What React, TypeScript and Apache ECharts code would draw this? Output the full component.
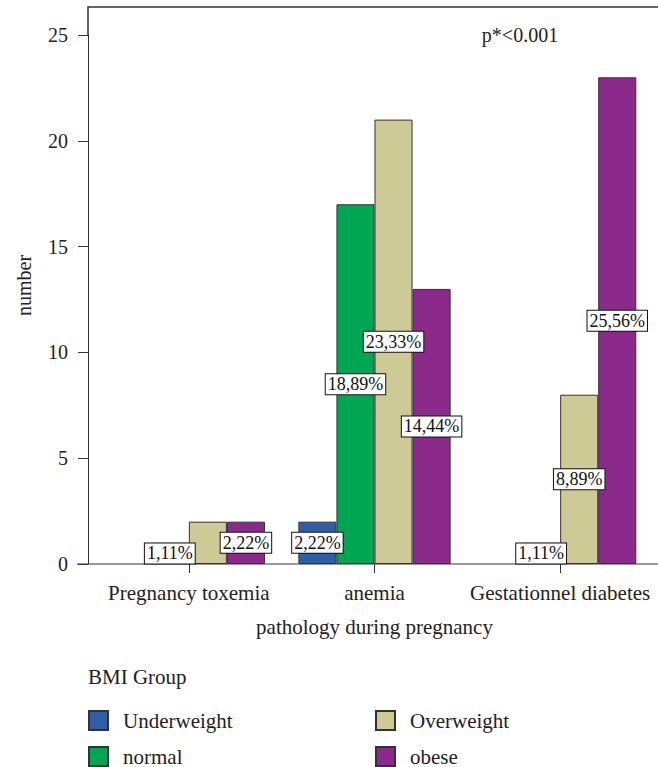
import React, { useEffect, useRef } from "react";
import * as echarts from "echarts";

const categories = ["Pregnancy toxemia", "anemia", "Gestationnel diabetes"];
const groupNames = ["Underweight", "normal", "Overweight", "obese"];
const underweight = [0, 2, 0];
const normal = [1, 17, 1];
const overweight = [2, 21, 8];
const obese = [2, 13, 23];
const groupColors = ["#2f5ea9", "#00a651", "#cdca95", "#8b2a8a"];
// labels suppressed in the reference (overlap)
const hiddenLabels: [string, number][] = [["Overweight", 0]];
const yMin = 0;
const yMax = 25;
const yInterval = 5;
const xTitle = "pathology during pregnancy";
const yTitle = "number";
const legendTitle = "BMI Group";
const pText = "p*<0.001";

const FONT = "Liberation Serif";
const W = 658;
const H = 767;
const GRID_LEFT = 96;
const GRID_RIGHT = 5;
const GRID_TOP = 35;
const GRID_BOTTOM = 203;
const AXIS_X = 88;
const FRAME_TOP = 7;

export default function App() {
  const ref = useRef<HTMLDivElement>(null);
  useEffect(() => {
    document.body.style.margin = "0";
    if (!ref.current) return;
    const chart = echarts.init(ref.current, null, { renderer: "svg" });
    const seriesValues = [underweight, normal, overweight, obese];
    const total = seriesValues.flat().reduce((a, b) => a + b, 0);
    const pct = (v: number) => ((v / total) * 100).toFixed(2).replace(".", ",") + "%";
    const axisY = H - GRID_BOTTOM;

    const series = groupNames.map((name, si) => ({
      name,
      type: "bar",
      barGap: "0%",
      barCategoryGap: "18%",
      itemStyle: { color: groupColors[si], borderColor: "#333", borderWidth: 1 },
      label: {
        show: true,
        position: "inside",
        formatter: (p: any) => pct(p.value),
        color: "#111",
        fontFamily: FONT,
        fontSize: 18,
        backgroundColor: "#fff",
        borderColor: "#111",
        borderWidth: 1,
        padding: [2, 2, 0, 2],
      },
      data: seriesValues[si].map((v, ci) => {
        const hide = v === 0 || hiddenLabels.some(([n, c]) => n === name && c === ci);
        const item: any = { value: v };
        if (hide) item.label = { show: false };
        if (v === 0) item.itemStyle = { borderWidth: 0, opacity: 0 };
        return item;
      }),
    }));

    const legendBase = {
      orient: "vertical",
      itemWidth: 19,
      itemHeight: 19,
      padding: 0,
      icon: "rect",
      selectedMode: false,
      textStyle: { color: "#222", fontFamily: FONT, fontSize: 21, padding: [0, 0, 0, 10] },
    };
    const legendPos = [
      [88, 710],
      [88, 746],
      [375, 710],
      [375, 746],
    ];

    chart.setOption({
      animation: false,
      grid: { left: GRID_LEFT, right: GRID_RIGHT, top: GRID_TOP, bottom: GRID_BOTTOM },
      xAxis: {
        type: "category",
        data: categories,
        axisLine: { show: false },
        axisTick: { show: true, alignWithLabel: true, length: 9, lineStyle: { color: "#333" } },
        axisLabel: { color: "#222", fontFamily: FONT, fontSize: 21, margin: 18, interval: 0 },
        name: xTitle,
        nameLocation: "middle",
        nameGap: 52,
        nameTextStyle: { color: "#222", fontFamily: FONT, fontSize: 21 },
      },
      yAxis: {
        type: "value",
        min: yMin,
        max: yMax,
        interval: yInterval,
        offset: GRID_LEFT - AXIS_X,
        axisLine: { show: true, lineStyle: { color: "#333" } },
        axisTick: { show: true, length: 10, lineStyle: { color: "#333" } },
        axisLabel: { color: "#222", fontFamily: FONT, fontSize: 20, margin: 20 },
        splitLine: { show: false },
      },
      legend: groupNames.map((n, i) => ({
        ...legendBase,
        data: [n],
        left: legendPos[i][0],
        top: legendPos[i][1],
      })),
      graphic: [
        {
          type: "polyline",
          shape: { points: [[AXIS_X, GRID_TOP], [AXIS_X, FRAME_TOP], [W, FRAME_TOP]] },
          style: { stroke: "#333", lineWidth: 1.5, fill: null },
          silent: true,
        },
        {
          type: "line",
          shape: { x1: AXIS_X - 11, y1: axisY, x2: W, y2: axisY },
          style: { stroke: "#333", lineWidth: 1 },
          silent: true,
        },
        {
          type: "text",
          x: 24,
          y: (FRAME_TOP + axisY) / 2,
          rotation: Math.PI / 2,
          style: { text: yTitle, fontFamily: FONT, fontSize: 20, fill: "#222", textAlign: "center", textVerticalAlign: "middle" },
        },
        {
          type: "text",
          x: 520,
          y: 35,
          style: { text: pText, fontFamily: FONT, fontSize: 20, fill: "#222", textAlign: "center", textVerticalAlign: "middle" },
        },
        {
          type: "text",
          x: 88,
          y: 677,
          style: { text: legendTitle, fontFamily: FONT, fontSize: 21, fill: "#222", textAlign: "left", textVerticalAlign: "middle" },
        },
      ],
      series,
    });
    return () => chart.dispose();
  }, []);
  return <div ref={ref} style={{ width: W, height: H }} />;
}
